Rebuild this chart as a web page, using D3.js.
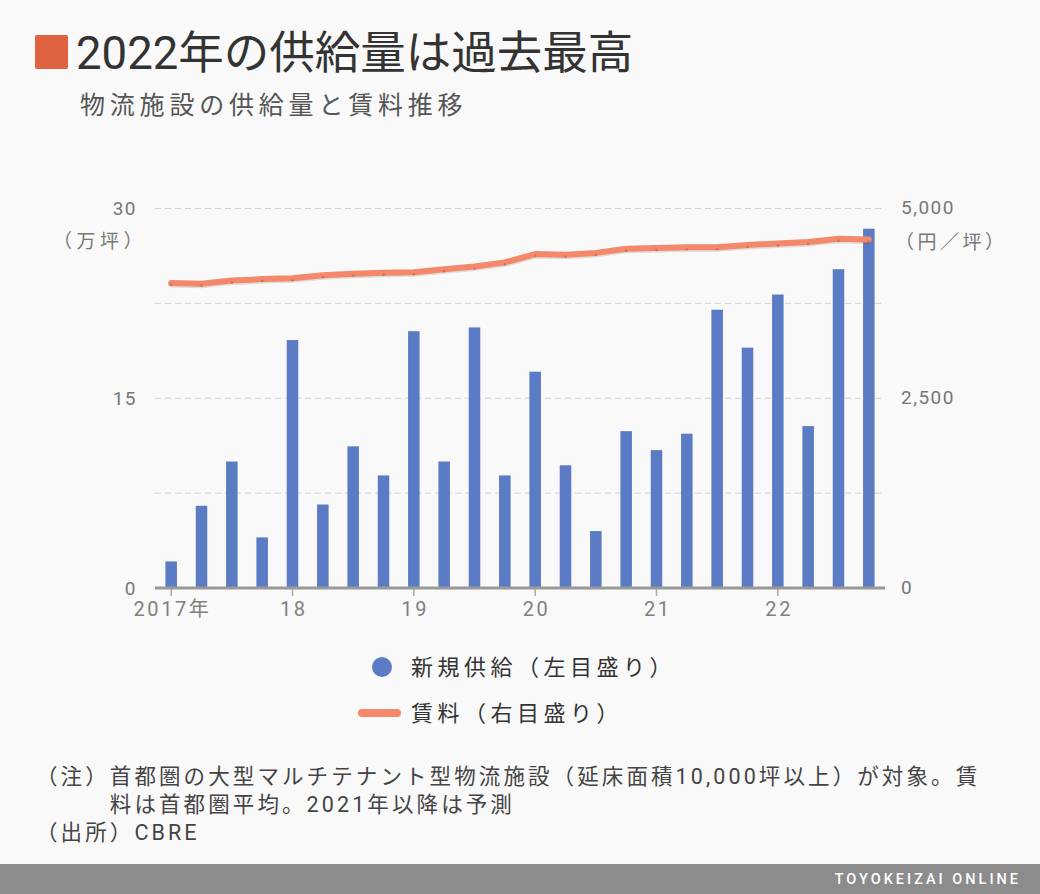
<!DOCTYPE html>
<html><head><meta charset="utf-8">
<script src="https://cdn.jsdelivr.net/npm/d3@7"></script>
<style>
html,body{margin:0;padding:0;background:#f9f9f9;}
svg{display:block;font-family:Roboto,"Noto Sans CJK JP",sans-serif;}
</style></head>
<body>
<svg id="chart" width="1040" height="894"></svg>
<script>
// ---- data ----
const quarters = ["2017Q1","2017Q2","2017Q3","2017Q4","2018Q1","2018Q2","2018Q3","2018Q4",
  "2019Q1","2019Q2","2019Q3","2019Q4","2020Q1","2020Q2","2020Q3","2020Q4",
  "2021Q1","2021Q2","2021Q3","2021Q4","2022Q1","2022Q2","2022Q3","2022Q4"];
const supply = [2.1,6.5,10.0,4.0,19.6,6.6,11.2,8.9,20.3,10.0,20.6,8.9,
  17.1,9.7,4.5,12.4,10.9,12.2,22.0,19.0,23.2,12.8,25.2,28.4];
const rent = [4020,4010,4050,4070,4080,4120,4140,4155,4160,4200,4235,4290,
  4400,4390,4415,4470,4478,4490,4490,4520,4540,4560,4600,4590];
const xTickQuarters = ["2017Q1","2018Q1","2019Q1","2020Q1","2021Q1","2022Q1"];
const xTickLabels = ["2017年","18","19","20","21","22"];
const leftTicks = [0,15,30];
const leftGrid = [7.5,15,22.5,30];
const rightTicks = [0,2500,5000];
const title = "2022年の供給量は過去最高";
const subtitle = "物流施設の供給量と賃料推移";
const legendLabels = ["新規供給（左目盛り）","賃料（右目盛り）"];
const notes1a = "（注）";
const notes1b = "首都圏の大型マルチテナント型物流施設（延床面積10,000坪以上）が対象。賃";
const notes2 = "料は首都圏平均。2021年以降は予測";
const notes3 = "（出所）CBRE";

// ---- drawing ----
const svg = d3.select("#chart");
const barColor = "#5b7bc5", lineColor = "#f4886a";
const FONT = 'Roboto,"Noto Sans CJK JP",sans-serif';

svg.append("rect").attr("width",1040).attr("height",894).attr("fill","#f9f9f9");

// title
svg.append("rect").attr("x",35).attr("y",35).attr("width",33).attr("height",34).attr("rx",2).attr("fill","#e0633f");
svg.append("text").attr("x",76).attr("y",53).attr("dominant-baseline","central")
  .attr("font-size",45.5).attr("font-weight",400).attr("fill","#333").text(title);
svg.append("text").attr("x",80).attr("y",105).attr("dominant-baseline","central")
  .attr("font-size",25).attr("letter-spacing",4.8).attr("fill","#555").text(subtitle);

const x = d3.scaleBand().domain(quarters).range([156,884]).paddingInner(0.62).paddingOuter(0.31);
const yL = d3.scaleLinear().domain([0,30]).range([588,208.5]);
const yR = d3.scaleLinear().domain([0,5000]).range([588,208.5]);
const cx = q => x(q) + x.bandwidth()/2;

// grid
svg.append("g").selectAll("line").data(leftGrid).join("line")
  .attr("x1",155).attr("x2",885).attr("y1",d=>yL(d)).attr("y2",d=>yL(d))
  .attr("stroke","#d2d2d2").attr("stroke-width",1).attr("stroke-dasharray","6,4");

// bars
svg.append("g").selectAll("rect").data(quarters).join("rect")
  .attr("x",d=>x(d)).attr("width",x.bandwidth())
  .attr("y",(d,i)=>yL(supply[i])).attr("height",(d,i)=>yL(0)-yL(supply[i]))
  .attr("fill",barColor);

// x axis
const xAxis = d3.axisBottom(x).tickValues(xTickQuarters)
  .tickFormat(d=>xTickLabels[xTickQuarters.indexOf(d)]).tickSize(8).tickPadding(6);
const gx = svg.append("g").attr("transform","translate(0,588)").call(xAxis);
gx.select(".domain").remove();
gx.selectAll(".tick line").attr("stroke","#aaa").attr("stroke-width",1.5);
gx.selectAll(".tick text").attr("font-size",20).attr("fill","#808080").attr("letter-spacing",2.6)
  .attr("dx",1.3).attr("font-family",FONT);
svg.append("line").attr("x1",155).attr("x2",885).attr("y1",588).attr("y2",588)
  .attr("stroke","#999").attr("stroke-width",3);

// left axis labels
const yAxisL = d3.axisLeft(yL).tickValues(leftTicks).tickSize(0).tickPadding(0);
const gl = svg.append("g").attr("transform","translate(137,0)").call(yAxisL);
gl.select(".domain").remove();
gl.selectAll(".tick text").attr("font-size",19).attr("fill","#777").attr("letter-spacing",1.5)
  .attr("font-family",FONT);
svg.append("text").attr("x",147).attr("y",241).attr("text-anchor","end").attr("dominant-baseline","central")
  .attr("font-size",19).attr("fill","#777").attr("letter-spacing",4.5).text("（万坪）");

// right axis labels
const yAxisR = d3.axisRight(yR).tickValues(rightTicks).tickFormat(d3.format(",")).tickSize(0).tickPadding(0);
const gr = svg.append("g").attr("transform","translate(901,-1)").call(yAxisR);
gr.select(".domain").remove();
gr.selectAll(".tick text").attr("font-size",19).attr("fill","#777").attr("letter-spacing",1.5)
  .attr("font-family",FONT);
svg.append("text").attr("x",895).attr("y",242).attr("dominant-baseline","central")
  .attr("font-size",19).attr("fill","#777").attr("letter-spacing",3.5).text("（円／坪）");

// rent line
const line = d3.line().x(d=>cx(d)).y((d,i)=>yR(rent[i]));
svg.append("path").datum(quarters).attr("d",line).attr("fill","none")
  .attr("stroke","rgba(120,80,60,0.18)").attr("stroke-width",6).attr("stroke-linejoin","round")
  .attr("stroke-linecap","round").attr("transform","translate(0,1.5)");
svg.append("path").datum(quarters).attr("d",line).attr("fill","none")
  .attr("stroke",lineColor).attr("stroke-width",6).attr("stroke-linejoin","round").attr("stroke-linecap","round");
svg.append("g").selectAll("circle").data(quarters).join("circle")
  .attr("cx",d=>cx(d)).attr("cy",(d,i)=>yR(rent[i])+2).attr("r",1.3).attr("fill","rgba(170,100,80,0.55)");

// legend
svg.append("circle").attr("cx",382).attr("cy",667).attr("r",10).attr("fill",barColor);
svg.append("text").attr("x",411).attr("y",667).attr("dominant-baseline","central")
  .attr("font-size",22).attr("letter-spacing",4.5).attr("fill","#333").text(legendLabels[0]);
svg.append("line").attr("x1",362).attr("x2",397).attr("y1",713).attr("y2",713)
  .attr("stroke",lineColor).attr("stroke-width",8).attr("stroke-linecap","round");
svg.append("text").attr("x",411).attr("y",713).attr("dominant-baseline","central")
  .attr("font-size",22).attr("letter-spacing",4.5).attr("fill","#333").text(legendLabels[1]);

// notes
const nAttrs = s => s.attr("dominant-baseline","central").attr("font-size",21.5)
  .attr("letter-spacing",3.1).attr("fill","#444");
const n1 = svg.append("text").attr("x",36).attr("y",776).call(nAttrs);
const t1 = n1.append("tspan").text(notes1a);
n1.append("tspan").text(notes1b);
const indent = 36 + t1.node().getComputedTextLength();
svg.append("text").attr("x",indent).attr("y",804).call(nAttrs).text(notes2);
svg.append("text").attr("x",36).attr("y",832).call(nAttrs).text(notes3);

// footer
svg.append("rect").attr("x",0).attr("y",864).attr("width",1040).attr("height",30).attr("fill","#8c8c8c");
svg.append("text").attr("x",1021).attr("y",879).attr("text-anchor","end").attr("dominant-baseline","central")
  .attr("font-size",14.5).attr("font-weight",500).attr("letter-spacing",3).attr("fill","#fff").text("TOYOKEIZAI ONLINE");
</script>
</body></html>
